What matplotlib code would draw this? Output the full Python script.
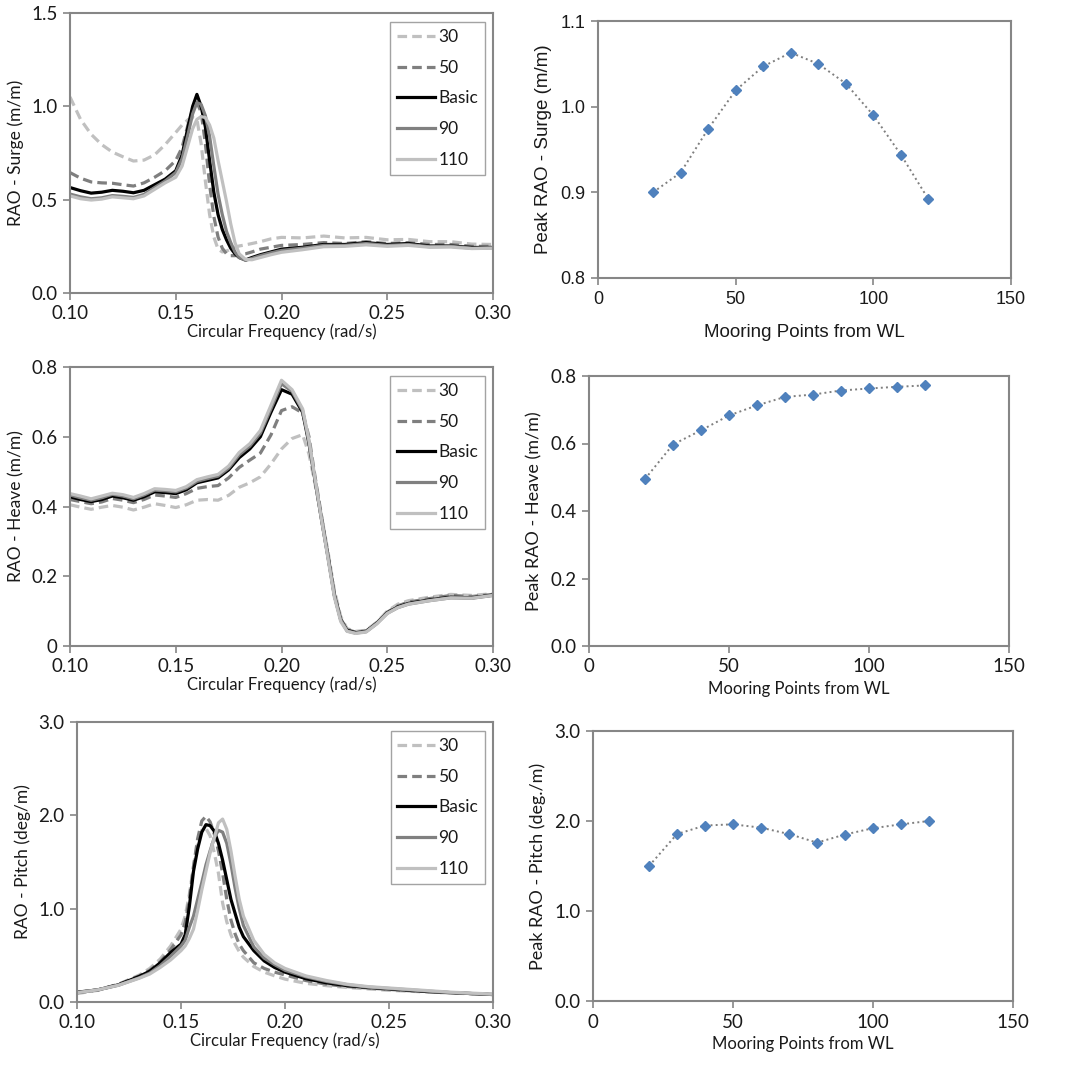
import numpy as np
import matplotlib
matplotlib.use("Agg")
import matplotlib.pyplot as plt
from matplotlib.ticker import FuncFormatter

# ---- data ----
labels = ["30", "50", "Basic", "90", "110"]

surge_f = [0.100, 0.105, 0.110, 0.115, 0.120, 0.125, 0.130, 0.135, 0.140, 0.145,
           0.150, 0.153, 0.156, 0.158, 0.160, 0.162, 0.164, 0.166, 0.168, 0.170,
           0.172, 0.174, 0.176, 0.178, 0.180, 0.183, 0.186, 0.190, 0.195, 0.200,
           0.210, 0.220, 0.230, 0.240, 0.250, 0.260, 0.270, 0.280, 0.290, 0.300]
surge_30 = [1.05, 0.93, 0.85, 0.795, 0.755, 0.73, 0.707, 0.712, 0.74, 0.795,
            0.86, 0.90, 0.93, 0.94, 0.93, 0.80, 0.60, 0.42, 0.30, 0.235,
            0.22, 0.225, 0.235, 0.245, 0.252, 0.258, 0.265, 0.275, 0.29, 0.298,
            0.295, 0.305, 0.295, 0.298, 0.285, 0.287, 0.275, 0.275, 0.262, 0.26]
surge_50 = [0.645, 0.615, 0.595, 0.59, 0.588, 0.58, 0.573, 0.59, 0.62, 0.655,
            0.71, 0.78, 0.91, 0.98, 1.02, 0.97, 0.80, 0.58, 0.41, 0.30,
            0.24, 0.21, 0.20, 0.20, 0.205, 0.21, 0.22, 0.235, 0.245, 0.255,
            0.26, 0.27, 0.265, 0.275, 0.265, 0.27, 0.26, 0.26, 0.25, 0.25]
surge_basic = [0.565, 0.548, 0.535, 0.54, 0.55, 0.545, 0.537, 0.55, 0.58, 0.61,
               0.655, 0.74, 0.90, 1.00, 1.064, 1.00, 0.89, 0.71, 0.54, 0.42,
               0.34, 0.285, 0.24, 0.21, 0.19, 0.177, 0.19, 0.205, 0.22, 0.235,
               0.245, 0.26, 0.26, 0.27, 0.26, 0.265, 0.252, 0.252, 0.244, 0.244]
surge_90 = [0.53, 0.515, 0.505, 0.51, 0.522, 0.518, 0.512, 0.528, 0.565, 0.60,
            0.645, 0.72, 0.86, 0.96, 1.02, 1.01, 0.95, 0.84, 0.68, 0.53,
            0.42, 0.33, 0.27, 0.22, 0.19, 0.175, 0.185, 0.20, 0.215, 0.228,
            0.24, 0.255, 0.255, 0.265, 0.255, 0.26, 0.248, 0.25, 0.24, 0.242]
surge_110 = [0.52, 0.505, 0.498, 0.503, 0.515, 0.51, 0.505, 0.52, 0.555, 0.59,
             0.62, 0.68, 0.80, 0.88, 0.93, 0.945, 0.94, 0.90, 0.83, 0.71,
             0.60, 0.49, 0.37, 0.27, 0.21, 0.18, 0.178, 0.19, 0.205, 0.218,
             0.232, 0.248, 0.25, 0.258, 0.25, 0.255, 0.245, 0.246, 0.238, 0.24]

heave_f = [0.100, 0.105, 0.110, 0.115, 0.120, 0.125, 0.130, 0.135, 0.140, 0.145,
           0.150, 0.155, 0.160, 0.165, 0.170, 0.175, 0.180, 0.185, 0.190, 0.195,
           0.200, 0.205, 0.210, 0.213, 0.216, 0.219, 0.222, 0.225, 0.228, 0.231,
           0.235, 0.240, 0.245, 0.250, 0.255, 0.260, 0.270, 0.280, 0.290, 0.300]
heave_30 = [0.405, 0.398, 0.392, 0.398, 0.403, 0.398, 0.39, 0.398, 0.408, 0.403,
            0.397, 0.405, 0.418, 0.42, 0.418, 0.432, 0.455, 0.468, 0.485, 0.522,
            0.565, 0.595, 0.606, 0.55, 0.46, 0.37, 0.27, 0.16, 0.085, 0.05,
            0.042, 0.045, 0.068, 0.10, 0.12, 0.13, 0.14, 0.148, 0.145, 0.15]
heave_50 = [0.42, 0.414, 0.408, 0.413, 0.423, 0.418, 0.411, 0.42, 0.433, 0.43,
            0.426, 0.437, 0.452, 0.457, 0.46, 0.482, 0.512, 0.533, 0.553, 0.605,
            0.675, 0.686, 0.668, 0.60, 0.48, 0.37, 0.26, 0.15, 0.078, 0.047,
            0.04, 0.043, 0.066, 0.097, 0.115, 0.126, 0.136, 0.145, 0.142, 0.148]
heave_basic = [0.428, 0.42, 0.414, 0.42, 0.43, 0.425, 0.418, 0.428, 0.442, 0.44,
               0.437, 0.448, 0.468, 0.475, 0.482, 0.505, 0.54, 0.565, 0.60, 0.67,
               0.735, 0.722, 0.67, 0.58, 0.47, 0.36, 0.255, 0.145, 0.075, 0.045,
               0.038, 0.042, 0.065, 0.095, 0.112, 0.122, 0.132, 0.14, 0.138, 0.146]
heave_90 = [0.433, 0.425, 0.418, 0.425, 0.435, 0.43, 0.422, 0.433, 0.447, 0.445,
            0.442, 0.453, 0.472, 0.48, 0.487, 0.51, 0.548, 0.573, 0.61, 0.68,
            0.752, 0.73, 0.675, 0.585, 0.47, 0.36, 0.255, 0.145, 0.075, 0.043,
            0.037, 0.041, 0.064, 0.094, 0.11, 0.12, 0.13, 0.138, 0.137, 0.145]
heave_110 = [0.437, 0.43, 0.422, 0.43, 0.438, 0.434, 0.426, 0.437, 0.451, 0.449,
             0.446, 0.457, 0.477, 0.485, 0.492, 0.516, 0.555, 0.58, 0.618, 0.69,
             0.762, 0.735, 0.68, 0.59, 0.475, 0.36, 0.25, 0.14, 0.07, 0.042,
             0.036, 0.04, 0.063, 0.093, 0.11, 0.12, 0.13, 0.138, 0.137, 0.145]

pitch_f = [0.100, 0.110, 0.120, 0.130, 0.135, 0.140, 0.145, 0.150, 0.152, 0.154,
           0.156, 0.158, 0.160, 0.162, 0.164, 0.166, 0.168, 0.170, 0.172, 0.174,
           0.176, 0.178, 0.180, 0.185, 0.190, 0.195, 0.200, 0.210, 0.220, 0.230,
           0.240, 0.250, 0.260, 0.270, 0.280, 0.290, 0.300]
pitch_30 = [0.09, 0.125, 0.19, 0.29, 0.36, 0.46, 0.60, 0.78, 0.92, 1.15,
            1.45, 1.70, 1.84, 1.86, 1.78, 1.60, 1.38, 1.06, 0.86, 0.72,
            0.62, 0.54, 0.48, 0.38, 0.32, 0.28, 0.245, 0.20, 0.175, 0.155,
            0.14, 0.125, 0.115, 0.105, 0.095, 0.088, 0.08]
pitch_50 = [0.10, 0.13, 0.19, 0.28, 0.34, 0.43, 0.56, 0.72, 0.85, 1.10,
            1.45, 1.75, 1.94, 1.99, 1.93, 1.80, 1.62, 1.38, 1.10, 0.88,
            0.73, 0.62, 0.55, 0.42, 0.36, 0.32, 0.29, 0.23, 0.19, 0.165,
            0.15, 0.135, 0.12, 0.11, 0.10, 0.09, 0.08]
pitch_basic = [0.105, 0.13, 0.185, 0.275, 0.33, 0.42, 0.53, 0.62, 0.72, 1.02,
               1.40, 1.64, 1.82, 1.90, 1.89, 1.83, 1.70, 1.52, 1.31, 1.10,
               0.95, 0.80, 0.70, 0.55, 0.44, 0.37, 0.32, 0.25, 0.205, 0.175,
               0.155, 0.14, 0.125, 0.11, 0.10, 0.09, 0.08]
pitch_90 = [0.10, 0.13, 0.18, 0.26, 0.31, 0.39, 0.49, 0.60, 0.66, 0.80,
            0.92, 1.10, 1.28, 1.47, 1.62, 1.76, 1.84, 1.82, 1.70, 1.48,
            1.22, 1.00, 0.82, 0.59, 0.47, 0.40, 0.34, 0.27, 0.22, 0.185,
            0.16, 0.145, 0.13, 0.115, 0.10, 0.09, 0.08]
pitch_110 = [0.10, 0.13, 0.18, 0.255, 0.30, 0.37, 0.45, 0.55, 0.60, 0.68,
             0.78, 0.98, 1.20, 1.40, 1.60, 1.76, 1.92, 1.96, 1.85, 1.62,
             1.35, 1.10, 0.92, 0.66, 0.51, 0.42, 0.36, 0.28, 0.23, 0.19,
             0.165, 0.15, 0.135, 0.12, 0.105, 0.095, 0.085]

mooring = [20, 30, 40, 50, 60, 70, 80, 90, 100, 110, 120]
peak_surge = [0.900, 0.923, 0.974, 1.019, 1.047, 1.063, 1.050, 1.027, 0.990, 0.944, 0.892]
peak_heave = [0.495, 0.597, 0.639, 0.683, 0.713, 0.738, 0.745, 0.757, 0.763, 0.768, 0.772]
peak_pitch = [1.50, 1.855, 1.95, 1.963, 1.926, 1.855, 1.76, 1.85, 1.92, 1.963, 2.00]

# ---- styles ----
styles = [
    dict(color="#c0c0c0", ls=(0, (3, 1.6))),
    dict(color="#7f7f7f", ls=(0, (3, 1.6))),
    dict(color="#000000", ls="-"),
    dict(color="#808080", ls="-"),
    dict(color="#c0c0c0", ls="-"),
]
spine_col = "#868686"
txt_col = "#1a1a1a"
calibri = ["Lato", "DejaVu Sans"]
arial = ["Liberation Sans", "DejaVu Sans"]

fig = plt.figure(figsize=(10.71, 10.65), dpi=100)


def px_axes(l, r, t, b):
    W, H = 1071.0, 1065.0
    return fig.add_axes([l / W, 1 - b / H, (r - l) / W, (b - t) / H])


def style_axes(ax, fam, size):
    for s in ax.spines.values():
        s.set_color(spine_col)
        s.set_linewidth(1.5)
    ax.tick_params(direction="out", length=5, width=1.2, color=spine_col,
                   labelcolor=txt_col, labelsize=size, pad=4)
    for lab in ax.get_xticklabels() + ax.get_yticklabels():
        lab.set_family(fam)


def rao_panel(ax, f, series, ylim, yticks, ylabel, yfmt):
    for y, lab, st in zip(series, labels, styles):
        ax.plot(f, y, lw=2.3, label=lab, **st)
    ax.set_xlim(0.10, 0.30)
    ax.set_ylim(*ylim)
    ax.set_xticks([0.10, 0.15, 0.20, 0.25, 0.30])
    ax.set_yticks(yticks)
    ax.xaxis.set_major_formatter(FuncFormatter(lambda v, p: f"{v:.2f}"))
    ax.yaxis.set_major_formatter(FuncFormatter(yfmt))
    style_axes(ax, calibri, 13.5)
    ax.set_xlabel("Circular Frequency (rad/s)", family=calibri, fontsize=12,
                  color=txt_col, labelpad=1)
    ax.set_ylabel(ylabel, family=calibri, fontsize=12.5, color=txt_col, labelpad=5)
    leg = ax.legend(loc="upper right", bbox_to_anchor=(0.981, 0.968), borderaxespad=0,
                    frameon=True, fancybox=False, handlelength=2.15, labelspacing=0.85,
                    handletextpad=0.2, borderpad=0.4, prop={"family": calibri, "size": 12.5})
    leg.get_frame().set_edgecolor("#8c8c8c")
    leg.get_frame().set_linewidth(1.0)
    for t in leg.get_texts():
        t.set_color(txt_col)


def peak_panel(ax, y, ylim, yticks, ylabel, fam, size, xl, yl, yfmt):
    ax.plot(mooring, y, ls=":", color="#7f7f7f", lw=1.4, marker="D", ms=5,
            mfc="#4f81bd", mec="#4f81bd")
    ax.set_xlim(0, 150)
    ax.set_ylim(*ylim)
    ax.set_xticks([0, 50, 100, 150])
    ax.set_yticks(yticks)
    ax.yaxis.set_major_formatter(FuncFormatter(yfmt))
    style_axes(ax, fam, size)
    ax.set_xlabel("Mooring Points from WL", family=fam, fontsize=xl, color=txt_col)
    ax.set_ylabel(ylabel, family=fam, fontsize=yl, color=txt_col, labelpad=6)


one_dec = lambda v, p: f"{v:.1f}"

ax1 = px_axes(70, 493, 13, 293)
rao_panel(ax1, surge_f, [surge_30, surge_50, surge_basic, surge_90, surge_110],
          (0, 1.5), [0, 0.5, 1.0, 1.5], "RAO - Surge (m/m)", one_dec)

ax3 = px_axes(70, 493, 367, 646)
rao_panel(ax3, heave_f, [heave_30, heave_50, heave_basic, heave_90, heave_110],
          (0, 0.8), [0, 0.2, 0.4, 0.6, 0.8], "RAO - Heave (m/m)",
          lambda v, p: "0" if abs(v) < 1e-9 else f"{v:.1f}")

ax5 = px_axes(77, 493, 722, 1002)
rao_panel(ax5, pitch_f, [pitch_30, pitch_50, pitch_basic, pitch_90, pitch_110],
          (0, 3.0), [0, 1.0, 2.0, 3.0], "RAO - Pitch (deg/m)", one_dec)

ax2 = px_axes(598, 1011, 21, 278)
peak_panel(ax2, peak_surge, (0.8, 1.1), [0.8, 0.9, 1.0, 1.1], "Peak RAO - Surge (m/m)",
           arial, 13, 13.5, 13.5, one_dec)
ax2.xaxis.labelpad = 12

ax4 = px_axes(589, 1009, 376, 646)
peak_panel(ax4, peak_heave, (0, 0.8), [0, 0.2, 0.4, 0.6, 0.8], "Peak RAO - Heave (m/m)",
           calibri, 13.5, 12, 13, one_dec)

ax6 = px_axes(593, 1013, 731, 1001)
peak_panel(ax6, peak_pitch, (0, 3.0), [0, 1.0, 2.0, 3.0], "Peak RAO - Pitch (deg./m)",
           calibri, 13.5, 12, 13, one_dec)

fig.savefig("out.png", dpi=100, facecolor="white")
